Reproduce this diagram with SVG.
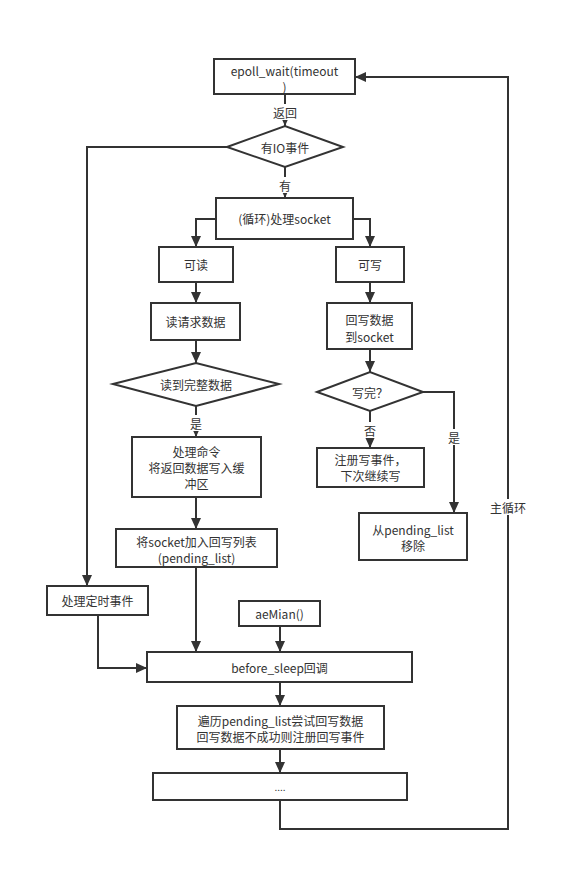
<svg xmlns="http://www.w3.org/2000/svg" width="570" height="882" viewBox="0 0 570 882">
<style>
.b{fill:#fff;stroke:#333;stroke-width:2}
.l{fill:none;stroke:#333;stroke-width:2}
text{font-family:"Noto Sans CJK SC","Noto Sans",sans-serif;font-size:12px;fill:#333;text-anchor:middle;dominant-baseline:central}
.lb{fill:#fff}
</style>
<defs>
<marker id="a" markerUnits="userSpaceOnUse" markerWidth="12" markerHeight="12" viewBox="0 0 12 12" refX="11" refY="6" orient="auto">
<path d="M0,1 L11,6 L0,11 Z" fill="#333"/>
</marker>
</defs>
<rect width="570" height="882" fill="#fff"/>
<g id="connectors">
<path class="l" d="M285,94 V126" marker-end="url(#a)"/>
<path class="l" d="M285,167 V198" marker-end="url(#a)"/>
<path class="l" d="M227,147 H87 V586" marker-end="url(#a)"/>
<path class="l" d="M216,219 H196 V247" marker-end="url(#a)"/>
<path class="l" d="M353,219 H370 V247" marker-end="url(#a)"/>
<path class="l" d="M196,282 V303" marker-end="url(#a)"/>
<path class="l" d="M370,282 V303" marker-end="url(#a)"/>
<path class="l" d="M196,340 V363" marker-end="url(#a)"/>
<path class="l" d="M370,349 V372" marker-end="url(#a)"/>
<path class="l" d="M196,406 V437" marker-end="url(#a)"/>
<path class="l" d="M370,411 V448" marker-end="url(#a)"/>
<path class="l" d="M423,392 H454 V513" marker-end="url(#a)"/>
<path class="l" d="M196,497 V529" marker-end="url(#a)"/>
<path class="l" d="M196,567 V652" marker-end="url(#a)"/>
<path class="l" d="M280,626 V652" marker-end="url(#a)"/>
<path class="l" d="M98,615 V668 H147" marker-end="url(#a)"/>
<path class="l" d="M280,682 V706" marker-end="url(#a)"/>
<path class="l" d="M280,749 V773" marker-end="url(#a)"/>
<path class="l" d="M280,800 V829 H508 V77 H355" marker-end="url(#a)"/>
<rect class="lb" x="271" y="104" width="28" height="16"/>
<text x="285" y="112">返回</text>
<rect class="lb" x="278" y="177" width="14" height="16"/>
<text x="285" y="185">有</text>
<rect class="lb" x="189" y="415" width="14" height="16"/>
<text x="196" y="423">是</text>
<rect class="lb" x="363" y="422" width="14" height="16"/>
<text x="370" y="430">否</text>
<rect class="lb" x="447" y="429" width="14" height="16"/>
<text x="454" y="437">是</text>
<rect class="lb" x="488" y="499" width="40" height="16"/>
<text x="508" y="507">主循环</text>
</g>
<g id="epoll"><rect class="b" x="214" y="59" width="141" height="35"/><text x="284.5" y="70">epoll_wait(timeout</text><text x="284.5" y="86">)</text></g>
<g id="hasio"><path class="b" d="M227,147 L285,126 L343,147 L285,167 Z"/><text x="285" y="147">有IO事件</text></g>
<g id="socket"><rect class="b" x="216" y="198" width="137" height="41"/><text x="284.5" y="218.5">(循环)处理socket</text></g>
<g id="readable"><rect class="b" x="159" y="247" width="74" height="35"/><text x="196" y="264.5">可读</text></g>
<g id="writable"><rect class="b" x="336" y="247" width="68" height="35"/><text x="370" y="264.5">可写</text></g>
<g id="readreq"><rect class="b" x="151" y="303" width="89" height="37"/><text x="195.5" y="321.5">读请求数据</text></g>
<g id="writeback"><rect class="b" x="327" y="303" width="85" height="46"/><text x="369.5" y="319">回写数据</text><text x="369.5" y="336">到socket</text></g>
<g id="readfull"><path class="b" d="M113,384 L196,363 L279,384 L196,406 Z"/><text x="196" y="384">读到完整数据</text></g>
<g id="writedone"><path class="b" d="M317,392 L370,372 L423,392 L370,411 Z"/><text x="370" y="392">写完？</text></g>
<g id="cmd"><rect class="b" x="132" y="437" width="129" height="60"/><text x="196.5" y="451">处理命令</text><text x="196.5" y="467">将返回数据写入缓</text><text x="196.5" y="483">冲区</text></g>
<g id="regwrite"><rect class="b" x="317" y="448" width="107" height="39"/><text x="370.5" y="459">注册写事件，</text><text x="370.5" y="475">下次继续写</text></g>
<g id="addpending"><rect class="b" x="116" y="529" width="161" height="38"/><text x="196.5" y="541">将socket加入回写列表</text><text x="196.5" y="557">(pending_list)</text></g>
<g id="remove"><rect class="b" x="359" y="513" width="108" height="47"/><text x="413" y="529">从pending_list</text><text x="413" y="545">移除</text></g>
<g id="timer"><rect class="b" x="47" y="586" width="101" height="29"/><text x="97.5" y="600.5">处理定时事件</text></g>
<g id="aemain"><rect class="b" x="239" y="601" width="81" height="25"/><text x="279.5" y="613.5">aeMian()</text></g>
<g id="beforesleep"><rect class="b" x="147" y="652" width="265" height="30"/><text x="279.5" y="667">before_sleep回调</text></g>
<g id="traverse"><rect class="b" x="177" y="706" width="207" height="43"/><text x="280.5" y="720">遍历pending_list尝试回写数据</text><text x="280.5" y="736">回写数据不成功则注册回写事件</text></g>
<g id="dots"><rect class="b" x="153" y="773" width="254" height="27"/><text x="280" y="786" style="font-size:10px">....</text></g>
</svg>
